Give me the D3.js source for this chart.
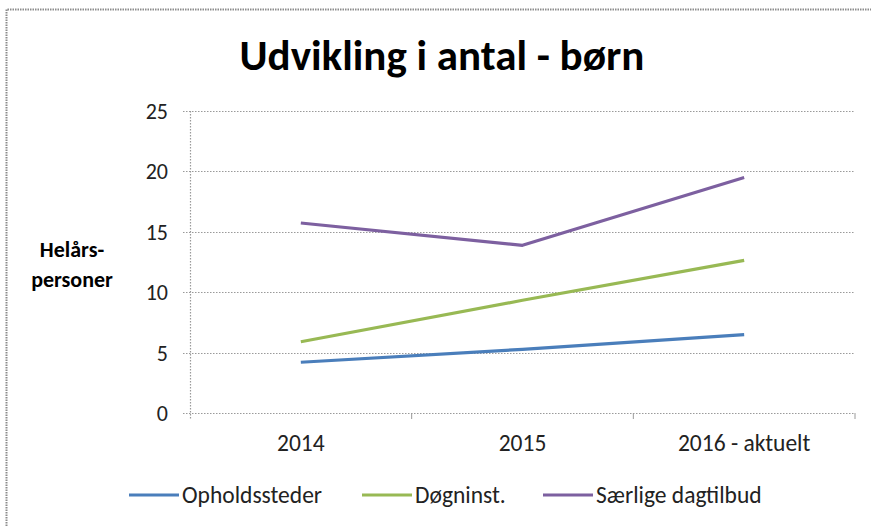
<!DOCTYPE html>
<html>
<head>
<meta charset="utf-8">
<script src="https://cdn.jsdelivr.net/npm/d3@7"></script>
<style>
  body { margin: 0; background: #fff; }
  text { font-family: Carlito, Lato, "Liberation Sans", sans-serif; }
</style>
</head>
<body>
<svg id="chart" width="871" height="526"></svg>
<script>
// data
var categories = ["2014", "2015", "2016 - aktuelt"];
var seriesNames = ["Opholdssteder", "Døgninst.", "Særlige dagtilbud"];
var opholdssteder = [4.2, 5.27, 6.49];
var dogninst = [5.9, 9.33, 12.64];
var saerlige = [15.73, 13.88, 19.49];
var yTicks = [0, 5, 10, 15, 20, 25];
var colors = ["#4a7ebb", "#98b954", "#7d60a0"];

var series = [opholdssteder, dogninst, saerlige];

var svg = d3.select("#chart");

// frame (only top and left edges are visible in the crop)
svg.append("path")
    .attr("d", "M6.5,526V9.5H871")
    .attr("fill", "none")
    .attr("stroke", "#8c8c8c")
    .attr("stroke-width", 2)
    .attr("stroke-dasharray", "1.5,1");

var plotLeft = 190, plotRight = 855, plotTop = 111, plotBottom = 413;

var x = d3.scaleBand()
    .domain(categories)
    .range([plotLeft, plotRight]);

var y = d3.scaleLinear()
    .domain([0, 25])
    .range([plotBottom, plotTop]);

// gridlines
svg.append("g")
    .selectAll("line")
    .data(yTicks)
    .enter().append("line")
    .attr("x1", plotLeft - 7)
    .attr("x2", plotRight)
    .attr("y1", function(d) { return Math.round(y(d)) + 0.5; })
    .attr("y2", function(d) { return Math.round(y(d)) + 0.5; })
    .attr("stroke", "#9a9a9a")
    .attr("stroke-width", 1.2)
    .attr("stroke-dasharray", "1.5,1.5");

// y axis line
svg.append("line")
    .attr("x1", plotLeft + 0.5).attr("x2", plotLeft + 0.5)
    .attr("y1", plotTop).attr("y2", plotBottom + 6)
    .attr("stroke", "#9a9a9a")
    .attr("stroke-width", 1.2)
    .attr("stroke-dasharray", "1.5,1.5");

// x axis ticks at category boundaries
var bounds = categories.map(function(c) { return x(c); }).concat([plotRight]);
svg.append("g")
    .selectAll("line")
    .data(bounds.slice(1))
    .enter().append("line")
    .attr("x1", function(d) { return d; })
    .attr("x2", function(d) { return d; })
    .attr("y1", plotBottom)
    .attr("y2", plotBottom + 6)
    .attr("stroke", "#9a9a9a")
    .attr("stroke-width", 1);

// y tick labels
svg.append("g")
    .selectAll("text")
    .data(yTicks)
    .enter().append("text")
    .attr("x", 168)
    .attr("y", function(d) { return y(d) + 8; })
    .attr("text-anchor", "end")
    .attr("font-size", 22)
    .attr("fill", "#222")
    .text(function(d) { return d; });

// x labels
svg.append("g")
    .selectAll("text")
    .data(categories)
    .enter().append("text")
    .attr("x", function(d) { return x(d) + x.bandwidth() / 2; })
    .attr("y", 451)
    .attr("text-anchor", "middle")
    .attr("font-size", 23.5)
    .attr("fill", "#222")
    .text(function(d) { return d; });

// title
svg.append("text")
    .attr("x", 442)
    .attr("y", 70)
    .attr("text-anchor", "middle")
    .attr("font-size", 43)
    .attr("font-weight", "bold")
    .attr("fill", "#000")
    .text("Udvikling i antal - børn");

// y axis title
var yt = svg.append("text")
    .attr("text-anchor", "middle")
    .attr("font-size", 22)
    .attr("font-weight", "bold")
    .attr("fill", "#000");
yt.append("tspan").attr("x", 72).attr("y", 257).text("Helårs-");
yt.append("tspan").attr("x", 72).attr("y", 287).text("personer");

// lines
var line = d3.line()
    .x(function(d, i) { return x(categories[i]) + x.bandwidth() / 2; })
    .y(function(d) { return y(d); });

svg.append("g")
    .selectAll("path")
    .data(series)
    .enter().append("path")
    .attr("d", line)
    .attr("fill", "none")
    .attr("stroke", function(d, i) { return colors[i]; })
    .attr("stroke-width", 3.2)
    .attr("stroke-linejoin", "round");

// legend
var legendX = [129, 362, 543];
var leg = svg.append("g")
    .selectAll("g")
    .data(seriesNames)
    .enter().append("g")
    .attr("transform", function(d, i) { return "translate(" + legendX[i] + ",495)"; });
leg.append("line")
    .attr("x1", 0).attr("x2", 50)
    .attr("y1", 0).attr("y2", 0)
    .attr("stroke", function(d, i) { return colors[i]; })
    .attr("stroke-width", 3.2);
leg.append("text")
    .attr("x", 53)
    .attr("y", 8)
    .attr("font-size", 23.5)
    .attr("fill", "#222")
    .text(function(d) { return d; });
</script>
</body>
</html>
